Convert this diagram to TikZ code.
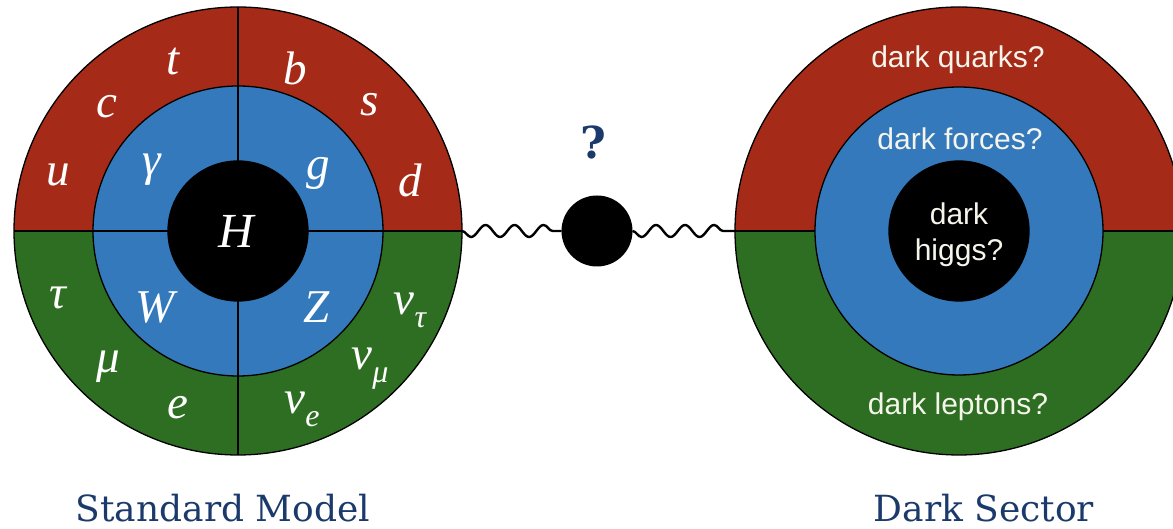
\documentclass[tikz,border=0pt]{standalone}
\usepackage{fontspec}
\usetikzlibrary{decorations.pathmorphing}
\newfontfamily\tms{Liberation Serif}
\newfontfamily\hlv{Liberation Sans}
\newfontfamily\slab{DejaVu Serif}
\definecolor{smred}{RGB}{166,42,24}
\definecolor{smblue}{RGB}{52,121,188}
\definecolor{smgreen}{RGB}{46,110,34}
\definecolor{navy}{RGB}{27,58,107}
\definecolor{txtw}{RGB}{245,245,235}
\newcommand{\subx}[1]{\raisebox{-0.28em}{\fontsize{32}{32}\selectfont #1}}
\begin{document}
\begin{tikzpicture}[x=1pt,y=1pt,
  sym/.style={text=white, font=\tms\itshape\fontsize{47}{47}\selectfont, inner sep=0},
  dk/.style={text=txtw, font=\hlv\fontsize{30}{36}\selectfont, align=center, inner sep=0},
  ring/.style={circle, draw=black, line width=1.3, inner sep=0, outer sep=0},
  divline/.style={line width=1.2},
  wavy/.style={decorate, decoration={snake, segment length=29, amplitude=-6}, line width=2.4},
  caption/.style={text=navy, font=\slab\fontsize{36}{40}\selectfont, inner sep=0, anchor=base}]
\useasboundingbox (0,0) rectangle (1173,529);
% ---------- Standard Model ----------
\fill[smred] (238,298) ++(180:224) arc[start angle=180, end angle=0, radius=224] -- cycle;
\fill[smgreen] (238,298) ++(180:224) arc[start angle=180, end angle=360, radius=224] -- cycle;
\node[ring, minimum size=448] (sm) at (238,298) {};
\node[ring, fill=smblue, minimum size=290] (smf) at (238,298) {};
\draw[divline] (sm.north) -- (sm.south);
\draw[divline] (sm.west) -- (sm.east);
\node[ring, fill=black, minimum size=140] (smh) at (238,298) {};
\node[sym, font=\tms\itshape\fontsize{49}{49}\selectfont] (lH) at (236,298) {H};
\node[sym] (lt) at (173,467) {t};
\node[sym] (lb) at (295,461) {b};
\node[sym] (lc) at (107,422) {c};
\node[sym] (ls) at (370,424) {s};
\node[sym] (lu) at (58,354) {u};
\node[sym] (ld) at (410,349) {d};
\node[sym] (lgam) at (152,359) {γ};
\node[sym] (lg) at (318,356) {g};
\node[sym] (ltau) at (58,231) {τ};
\node[sym] (lW) at (155,222) {W};
\node[sym] (lZ) at (317,222) {Z};
\node[sym] (lnt) at (410,219) {ν\subx{τ}};
\node[sym] (lmu) at (108,162) {μ};
\node[sym] (lnm) at (370,160) {ν\subx{μ}};
\node[sym] (le) at (178,121) {e};
\node[sym] (lne) at (302,120) {ν\subx{e}};
% ---------- Dark Sector ----------
\fill[smred] (959,298) ++(180:224) arc[start angle=180, end angle=0, radius=224] -- cycle;
\fill[smgreen] (959,298) ++(180:224) arc[start angle=180, end angle=360, radius=224] -- cycle;
\node[ring, minimum size=448] (ds) at (959,298) {};
\draw[divline] (ds.west) -- (ds.east);
\node[ring, fill=smblue, minimum size=288] (dsf) at (959,298) {};
\node[ring, fill=black, minimum size=140] (dsh) at (959,298) {};
\node[dk] (dh) at (959,294) {dark\\higgs?};
\node[dk] (dq) at (958,469) {dark quarks?};
\node[dk] (dfo) at (960,390) {dark forces?};
\node[dk] (dl) at (958,122) {dark leptons?};
% ---------- mediator ----------
\node[circle, fill=black, minimum size=71, inner sep=0, outer sep=0] (dot) at (597,298) {};
\draw[wavy] (sm.east) -- (dot.west);
\draw[wavy] (dot.east) -- (ds.west);
\node[text=navy, font=\slab\bfseries\fontsize{44}{44}\selectfont, inner sep=0] (qm) at (593,387) {?};
% ---------- captions ----------
\node[caption] (capsm) at (223,7) {Standard Model};
\node[caption] (capds) at (984,7) {Dark Sector};
\end{tikzpicture}
\end{document}
